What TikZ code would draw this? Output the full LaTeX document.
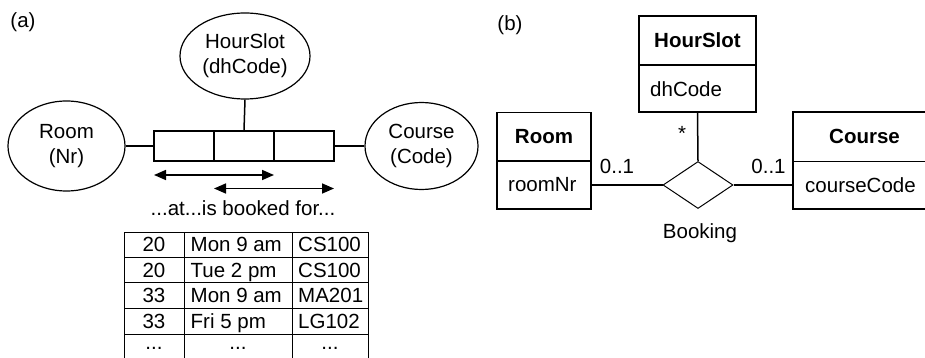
\documentclass[tikz,border=0pt]{standalone}
\usepackage{fontspec}
\setmainfont{Liberation Sans}
\usetikzlibrary{shapes.geometric,arrows.meta}
\begin{document}
\begin{tikzpicture}[x=1pt,y=-1pt,
  every node/.style={font=\fontsize{20.5}{25}\selectfont, inner sep=0pt},
  bold/.style={font=\fontsize{20.5}{25}\selectfont\bfseries},
  ent/.style={draw, ellipse, line width=1.2pt, align=center},
  cell/.style={draw, rectangle, line width=1.6pt, minimum width=60pt, minimum height=30pt},
  conn/.style={line width=1.5pt},
  role/.style={line width=1.6pt, {Triangle[length=12pt,width=10pt]}-{Triangle[length=12pt,width=10pt]}},
  tab/.style={line width=0.9pt},
  cls/.style={draw, rectangle, line width=1.8pt},
  rel/.style={draw, diamond, line width=1pt, minimum width=70pt, minimum height=47pt},
  txt/.style={anchor=base},
]
\useasboundingbox (0,0) rectangle (925,358);
\clip (0,0) rectangle (925,358);

% ---------- (a) ----------
\node[txt] (la) at (23,27.5) {(a)};
\node[ent, minimum width=117pt, minimum height=90pt] (room) at (66.5,146) {Room\\(Nr)};
\node[ent, minimum width=130pt, minimum height=86pt] (hour) at (245,56) {HourSlot\\(dhCode)};
\node[ent, minimum width=113pt, minimum height=87pt] (course) at (421.5,146) {Course\\(Code)};
\node[cell] (c1) at (184,146) {};
\node[cell] (c2) at (244,146) {};
\node[cell] (c3) at (304,146) {};
\draw[conn] (room.east) -- (c1.west);
\draw[conn] (hour.south) -- (c2.north);
\draw[conn] (c3.east) -- (course.west);

\coordinate (r1a) at (154,175);
\coordinate (r1b) at (274,175);
\coordinate (r2a) at (214,188.5);
\coordinate (r2b) at (334,188.5);
\draw[role] (r1a) -- (r1b);
\draw[role] (r2a) -- (r2b);
\node[txt] (reading) at (243,215) {...at...is booked for...};

% table
\foreach \y in {232,257,282,308,334} \draw[tab] (124,\y) -- (368,\y);
\foreach \x in {124,184,292,368} \draw[tab] (\x,232) -- (\x,362);
\foreach \a/\b/\c/\y [count=\i] in {20/Mon 9 am/CS100/251.5, 20/Tue 2 pm/CS100/277, 33/Mon 9 am/MA201/302.5, 33/Fri 5 pm/LG102/328}{
  \node[txt] (t\i a) at (154,\y) {\a};
  \node[anchor=base west] (t\i b) at (190.5,\y) {\b};
  \node[anchor=base west] (t\i c) at (298,\y) {\c};
}
\node[txt] (t5a) at (154,349) {...};
\node[txt] (t5b) at (238,349) {...};
\node[txt] (t5c) at (330,349) {...};

% ---------- (b) ----------
\node[txt] (lb) at (510,31) {(b)};
\node[cls, minimum width=117pt, minimum height=49pt] (hsT) at (697.5,40.5) {};
\node[cls, minimum width=117pt, minimum height=47pt] (hsB) at (697.5,88.5) {};
\node[txt,bold] (hsN) at (697.5,47.3) {HourSlot};
\node[anchor=base west] (hsA) at (650,96.5) {dhCode};

\node[cls, minimum width=94pt, minimum height=48.5pt] (rmT) at (544,136.75) {};
\node[cls, minimum width=94pt, minimum height=48pt] (rmB) at (544,185) {};
\node[txt,bold] (rmN) at (544,144) {Room};
\node[anchor=base west] (rmA) at (508,191) {roomNr};

\node[cls, minimum width=143pt, minimum height=49.5pt] (csT) at (864.5,136.75) {};
\node[cls, minimum width=143pt, minimum height=47.5pt] (csB) at (864.5,185.25) {};
\node[txt,bold] (csN) at (864.5,144) {Course};
\node[anchor=base west] (csA) at (805,192) {courseCode};

\node[rel] (bk) at (698,185) {};
\draw[conn] (rmB.east) -- (bk.west);
\draw[conn] (bk.east) -- (csB.west |- bk.east);
\draw[conn] (hsB.south) -- (bk.north);

\node[txt] (star) at (682,141) {*};
\node[txt] (m1) at (617,173) {0..1};
\node[txt] (m2) at (768.5,173) {0..1};
\node[txt] (bkN) at (700,238) {Booking};
\end{tikzpicture}
\end{document}
